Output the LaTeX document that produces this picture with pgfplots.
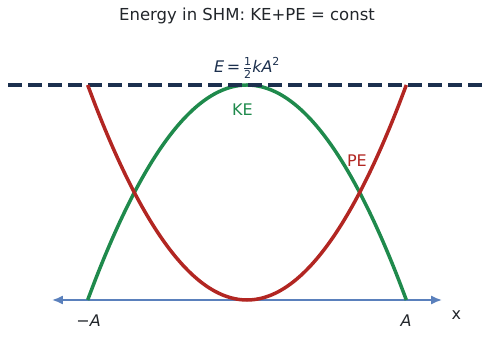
\documentclass[border=0pt]{standalone}
\usepackage{fontspec}
\setmainfont{DejaVu Sans}
\usepackage{pgfplots}
\pgfplotsset{compat=1.18}
\usepackage{pgfplotstable}
\usetikzlibrary{arrows.meta}
\definecolor{keG}{RGB}{31,138,76}
\definecolor{peR}{RGB}{178,38,34}
\definecolor{axB}{RGB}{90,128,188}
\definecolor{navy}{RGB}{28,48,78}
\definecolor{txt}{RGB}{34,38,43}
\pgfplotstableread{
x pe ke
-1.00 1.0000 0.0000
-0.95 0.9025 0.0975
-0.90 0.8100 0.1900
-0.85 0.7225 0.2775
-0.80 0.6400 0.3600
-0.75 0.5625 0.4375
-0.70 0.4900 0.5100
-0.65 0.4225 0.5775
-0.60 0.3600 0.6400
-0.55 0.3025 0.6975
-0.50 0.2500 0.7500
-0.45 0.2025 0.7975
-0.40 0.1600 0.8400
-0.35 0.1225 0.8775
-0.30 0.0900 0.9100
-0.25 0.0625 0.9375
-0.20 0.0400 0.9600
-0.15 0.0225 0.9775
-0.10 0.0100 0.9900
-0.05 0.0025 0.9975
0.00 0.0000 1.0000
0.05 0.0025 0.9975
0.10 0.0100 0.9900
0.15 0.0225 0.9775
0.20 0.0400 0.9600
0.25 0.0625 0.9375
0.30 0.0900 0.9100
0.35 0.1225 0.8775
0.40 0.1600 0.8400
0.45 0.2025 0.7975
0.50 0.2500 0.7500
0.55 0.3025 0.6975
0.60 0.3600 0.6400
0.65 0.4225 0.5775
0.70 0.4900 0.5100
0.75 0.5625 0.4375
0.80 0.6400 0.3600
0.85 0.7225 0.2775
0.90 0.8100 0.1900
0.95 0.9025 0.0975
1.00 1.0000 0.0000
}\energy
\begin{document}
\begin{tikzpicture}
\useasboundingbox (0,0) rectangle (494pt,363pt);
\begin{axis}[
  at={(8pt,0pt)}, anchor=south west,
  scale only axis, width=478pt, height=363pt,
  xmin=-1.5, xmax=1.5, ymin=-0.293, ymax=1.3953,
  axis lines=none, clip=false,
]
\addplot[axB, line width=2pt, {Latex[length=11pt,width=9pt]}-{Latex[length=11pt,width=9pt]}] coordinates {(-1.225,0) (1.225,0)};
\addplot[keG, line width=3.5pt, smooth] table[x=x,y=ke] {\energy};
\addplot[navy, line width=3.4pt, dash pattern=on 14pt off 6pt] coordinates {(-1.5,1) (1.5,1)};
\addplot[peR, line width=3.5pt, smooth] table[x=x,y=pe] {\energy};
\node[anchor=base, text=txt, font=\fontsize{16.5}{18}\selectfont] at (axis cs:0,1.299) {Energy in SHM: KE+PE = const};
\node[anchor=base, text=navy, font=\fontsize{16}{18}\selectfont] at (axis cs:0,1.06) {\textit{E}\,=\,$\frac{\mbox{\fontsize{11}{12}\selectfont 1}}{\mbox{\fontsize{11}{12}\selectfont 2}}$\textit{kA}$^{\mbox{\fontsize{11}{12}\selectfont 2}}$};
\node[anchor=base, text=keG, font=\fontsize{16}{18}\selectfont] at (axis cs:-0.028,0.856) {KE};
\node[anchor=base, text=peR, font=\fontsize{16}{18}\selectfont] at (axis cs:0.69,0.619) {PE};
\node[anchor=base, text=txt, font=\fontsize{16}{18}\selectfont] at (axis cs:-0.994,-0.124) {−\textit{A}};
\node[anchor=base, text=txt, font=\fontsize{16}{18}\selectfont] at (axis cs:0.998,-0.124) {\textit{A}};
\node[anchor=base, text=txt, font=\fontsize{16}{18}\selectfont] at (axis cs:1.314,-0.09) {x};
\end{axis}
\end{tikzpicture}
\end{document}
